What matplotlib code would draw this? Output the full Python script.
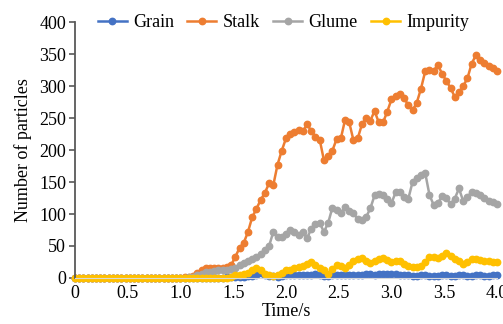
import numpy as np
import matplotlib
matplotlib.use("Agg")
import matplotlib.pyplot as plt

# time axis: one sample every 0.04 s
time_s = np.round(np.arange(101) * 0.04, 2)

grain = [0] * 36 + [
    1, 1, 2, 2, 2, 3, 3, 4, 8, 5, 3, 3, 2, 3,
    4, 5, 5, 4, 4, 5, 5, 6, 4, 3,
    3, 4, 4, 4, 5, 4, 4, 5, 5, 6,
    6, 5, 6, 7, 6, 6, 7, 5, 4, 4,
    3, 3, 4, 4, 3, 3,
    3, 4, 4, 3, 3, 4, 4, 3, 3, 4, 4, 3, 3, 4, 4,
]

stalk = [0] * 26 + [1, 2, 3, 8, 13, 15, 16, 16, 15, 16, 17, 20,
    33, 47, 55, 72, 95, 108, 122, 133, 148, 145, 177, 199,
    218, 225, 228, 232, 229, 240, 230, 221, 216, 184,
    191, 199, 217, 218, 247, 243, 215, 218, 240, 250,
    246, 261, 243, 243, 260, 279, 284, 287, 281, 270,
    262, 274, 296, 323, 325, 324, 333, 319, 308, 297,
    283, 290, 300, 312, 335, 348, 340, 336, 332, 328, 324,
]

glume = [0] * 27 + [1, 2, 4, 7, 9, 10, 11, 12, 12, 13, 14,
    16, 20, 24, 27, 30, 33, 38, 43, 50, 72, 64, 64,
    69, 75, 72, 67, 72, 62, 77, 85, 86, 72,
    86, 110, 106, 101, 111, 104, 101, 92, 91, 95,
    109, 129, 132, 130, 124, 117, 134, 134, 127, 124,
    150, 156, 161, 164, 130, 114, 117, 128, 125, 115,
    124, 140, 120, 127, 134, 133, 130, 125, 121, 118, 115,
]

impurity = [0] * 37 + [2,
    4, 5, 6, 8, 12, 16, 12, 6, 4, 3, 4, 8,
    12, 13, 15, 17, 19, 22, 25, 20, 15, 12,
    7, 14, 20, 18, 15, 20, 26, 30, 31, 27,
    23, 26, 30, 31, 28, 25, 27, 26, 22, 19,
    17, 17, 18, 25, 33, 33, 32, 35, 39, 34,
    29, 27, 22, 25, 30, 30, 28, 27, 26, 25, 25,
]

series = [
    ("Grain", grain, "#4472C4"),
    ("Stalk", stalk, "#ED7D31"),
    ("Glume", glume, "#A5A5A5"),
    ("Impurity", impurity, "#FFC000"),
]

plt.rcParams["font.family"] = ["Liberation Serif", "DejaVu Serif"]
plt.rcParams["font.size"] = 13

fig = plt.figure(figsize=(5.03, 3.24), dpi=100)
ax = fig.add_axes([0.149, 0.142, 0.839, 0.79])

for name, vals, color in series:
    ax.plot(time_s, vals, color=color, lw=1.8, marker="o", ms=4.6,
            mec=color, mfc=color, label=name, clip_on=False)

ax.set_xlim(0, 4)
ax.set_ylim(0, 400)
ax.set_xticks(np.arange(0, 4.01, 0.5))
ax.set_xticklabels(["0"] + [f"{v:.1f}" for v in np.arange(0.5, 4.01, 0.5)])
ax.set_yticks(np.arange(0, 401, 50))

for side in ("top", "right"):
    ax.spines[side].set_visible(False)
ax.spines["left"].set_color("#595959")
ax.spines["left"].set_linewidth(1.3)
ax.spines["bottom"].set_color("#D9D9D9")
ax.tick_params(axis="y", direction="out", length=4.5, width=1.2,
               color="#595959", pad=2)
ax.tick_params(axis="x", length=0, pad=5)

ax.set_xlabel("Time/s", labelpad=1)
ax.set_ylabel("Number of particles", labelpad=5)

ax.legend(loc="upper left", bbox_to_anchor=(0.054, 1.03), ncol=4,
          frameon=False, handlelength=1.6, handletextpad=0.35,
          columnspacing=0.75, borderaxespad=0, borderpad=0)

fig.savefig("out.png", dpi=100)
